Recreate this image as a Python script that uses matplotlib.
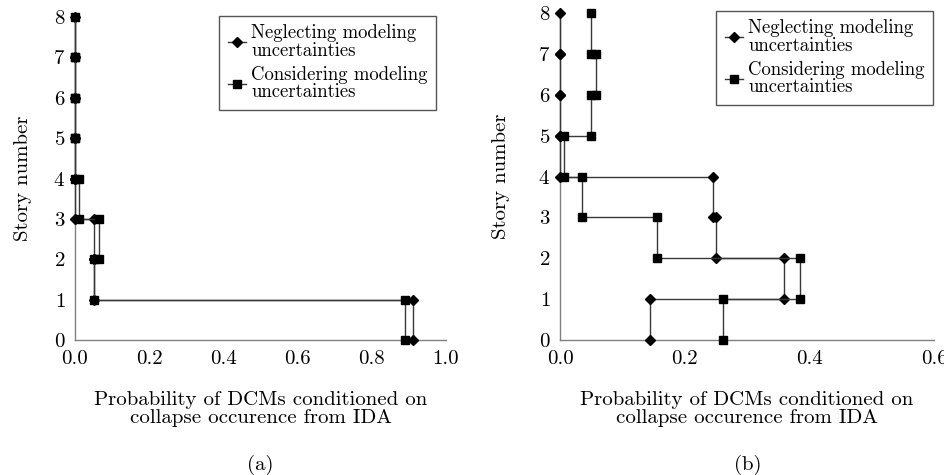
import matplotlib
matplotlib.use("Agg")
import matplotlib.pyplot as plt
import numpy as np

plt.rcParams['font.family'] = ['cmr10']
plt.rcParams['mathtext.fontset'] = 'cm'
plt.rcParams['axes.formatter.use_mathtext'] = True

# probability per story, listed from story 8 down to story 1
stories = [8, 7, 6, 5, 4, 3, 2, 1]
a_neglect = [0.0, 0.0, 0.0, 0.0, 0.0, 0.05, 0.05, 0.91]
a_consider = [0.0, 0.0, 0.0, 0.0, 0.01, 0.065, 0.05, 0.89]
b_neglect = [0.0, 0.0, 0.0, 0.0, 0.245, 0.25, 0.36, 0.145]
b_consider = [0.049, 0.058, 0.049, 0.007, 0.035, 0.156, 0.385, 0.262]

x_ticks_a = [0.0, 0.2, 0.4, 0.6, 0.8, 1.0]
x_ticks_b = [0.0, 0.2, 0.4, 0.6]
y_ticks = [0, 1, 2, 3, 4, 5, 6, 7, 8]

lbl_neglect = "Neglecting modeling\nuncertainties"
lbl_consider = "Considering modeling\nuncertainties"
x_label = "Probability of DCMs conditioned on\ncollapse occurence from IDA"

LINE = '#383838'
SPINE = '#808080'


def step_profile(probs):
    # each story k is drawn as a vertical piece from (p, k) to (p, k-1)
    xs, ys = [], []
    for k, p in zip(stories, probs):
        xs += [p, p]
        ys += [k, k - 1]
    return xs, ys


def draw_panel(ax, neglect, consider, xmax, xticks, ypad):
    x1, y1 = step_profile(neglect)
    x2, y2 = step_profile(consider)
    ax.plot(x1, y1, color=LINE, lw=1.0, marker='D', ms=5.2, mfc='black',
            mec='black', label=lbl_neglect, clip_on=False, zorder=3)
    ax.plot(x2, y2, color=LINE, lw=1.0, marker='s', ms=6.3, mfc='black',
            mec='black', label=lbl_consider, clip_on=False, zorder=3)
    ax.set_xlim(0, xmax)
    ax.set_ylim(0, 8)
    ax.set_xticks(xticks)
    ax.set_xticklabels([f'{t:.1f}' for t in xticks])
    ax.set_yticks(y_ticks)
    for s in ['top', 'right']:
        ax.spines[s].set_visible(False)
    for s in ['left', 'bottom']:
        ax.spines[s].set_color(SPINE)
        ax.spines[s].set_linewidth(1.0)
    ax.tick_params(length=0, labelsize=15, pad=7)
    ax.set_ylabel("Story number", fontsize=15, labelpad=ypad)
    ax.set_xlabel(x_label, fontsize=15, labelpad=17, linespacing=1.0)


fig = plt.figure(figsize=(9.44, 4.75), dpi=100)
ax1 = fig.add_axes([75 / 944, 135 / 475, 371 / 944, 323 / 475])
ax2 = fig.add_axes([560 / 944, 135 / 475, 374 / 944, 327 / 475])

draw_panel(ax1, a_neglect, a_consider, 1.0, x_ticks_a, 15)
draw_panel(ax2, b_neglect, b_consider, 0.6, x_ticks_b, 20)

for ax, anchor in [(ax1, (436 / 944, 1 - 16 / 475)), (ax2, (933 / 944, 1 - 11 / 475))]:
    leg = ax.legend(loc='upper right', bbox_to_anchor=anchor,
                    bbox_transform=fig.transFigure, fontsize=13.5,
                    handlelength=1.0, handletextpad=0.25, borderpad=0.45,
                    borderaxespad=0, labelspacing=0.35, fancybox=False,
                    framealpha=1)
    leg.get_frame().set_edgecolor('#555555')
    leg.get_frame().set_linewidth(1.0)
    for t in leg.get_texts():
        t.set_linespacing(0.95)

fig.text(260 / 944, 1 - 465 / 475, "(a)", ha='center', va='center', fontsize=15)
fig.text(748 / 944, 1 - 465 / 475, "(b)", ha='center', va='center', fontsize=15)

fig.savefig("out.png", dpi=100)
